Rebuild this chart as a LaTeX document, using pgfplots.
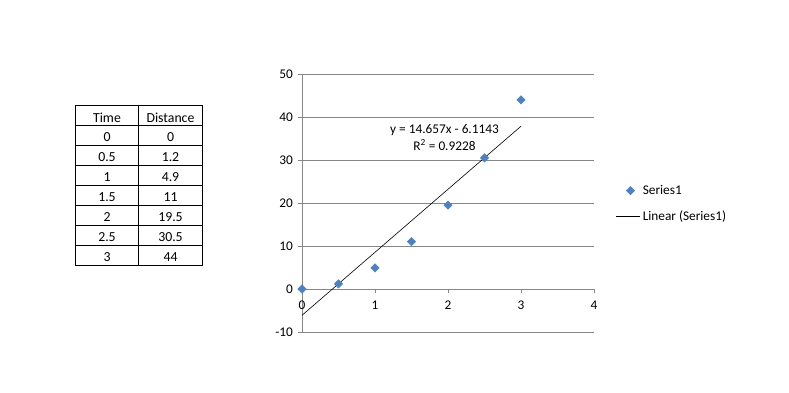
\documentclass[border=0pt]{standalone}
\usepackage{fontspec}
\setmainfont{Carlito}
\usepackage{pgfplots}
\pgfplotsset{compat=1.18}
\definecolor{xlblue}{HTML}{4F81BD}
\definecolor{xlgrid}{HTML}{878787}
\newcommand{\xf}{\fontsize{13.3}{16}\selectfont}
\newcommand{\tf}{\fontsize{13.8}{16}\selectfont}
\pgfplotsset{
  legdiamond/.style={legend image code/.code={\draw[mark repeat=2,mark phase=2,##1] plot coordinates {(0pt,0pt)(14pt,0pt)(24pt,0pt)};}},
  legline/.style={legend image code/.code={\draw[##1] (0pt,0pt) -- (24pt,0pt);}},
}
\begin{document}
\begin{tikzpicture}[x=1pt,y=1pt]
\useasboundingbox[fill=white] (0,0) rectangle (789,392);
\coordinate (axpos) at (302pt,60pt);
% data table
\begin{scope}[line width=0.8pt]
\draw (75.5,392-105) rectangle (202.5,392-265);
\draw (138.5,392-105) -- (138.5,392-265);
\foreach \y in {125,145,165,185,205,225,245} \draw (75.5,392-\y) -- (202.5,392-\y);
\end{scope}
\node[anchor=base,font=\tf,inner sep=0pt] at (107,392-122) {Time};
\node[anchor=base,font=\tf,inner sep=0pt] at (170.5,392-122) {Distance};
\foreach \t/\d [count=\i] in {0/0,0.5/1.2,1/4.9,1.5/11,2/19.5,2.5/30.5,3/44}{
  \node[anchor=base,font=\tf,inner sep=0pt] at (107,392-121-20*\i) {\t};
  \node[anchor=base,font=\tf,inner sep=0pt] at (170.5,392-121-20*\i) {\d};
}
\begin{axis}[
  at={(axpos)}, anchor=south west,
  scale only axis, width=292pt, height=258pt,
  xmin=0, xmax=4, ymin=-10, ymax=50,
  axis x line=middle, axis y line=left,
  axis line style={-, draw=xlgrid, line width=0.8pt},
  xtick={0,1,2,3,4}, ytick={-10,0,10,20,30,40,50},
  ymajorgrids, grid style={draw=xlgrid, line width=0.8pt},
  tick align=outside, major tick length=4pt,
  tick style={draw=xlgrid, line width=0.8pt},
  hide obscured x ticks=false, hide obscured y ticks=false,
  ticklabel style={font=\xf},
  xticklabel style={yshift=-4pt},
  yticklabel style={xshift=-1.5pt},
  /pgf/number format/assume math mode=true,
  clip=false,
  legend style={draw=none, fill=none, font=\xf,
    at={(axis description cs:1.065,0.585)}, anchor=north west,
    row sep=10.5pt},
  legend cell align=left,
]
\addplot[only marks, mark=square*, mark size=3pt,
  mark options={rotate=45, fill=xlblue, draw=xlblue}, legdiamond]
  coordinates {(0,0)(0.5,1.2)(1,4.9)(1.5,11)(2,19.5)(2.5,30.5)(3,44)};
\addlegendentry{Series1}
\addplot[black, line width=0.6pt, no marks, legline]
  coordinates {(0,-6.1143)(3,37.8567)};
\addlegendentry{Linear (Series1)}
\node[anchor=base, font=\xf, inner sep=0pt] at (axis cs:1.952,36.05) {y = 14.657x - 6.1143};
\node[anchor=base, font=\xf, inner sep=0pt] at (axis cs:1.952,32.16) {R\textsuperscript{2} = 0.9228};
\end{axis}
\end{tikzpicture}
\end{document}
